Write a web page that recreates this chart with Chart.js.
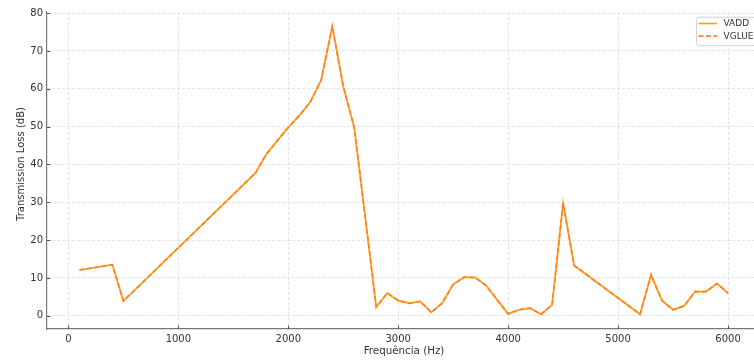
<!DOCTYPE html>
<html>
<head>
<meta charset="utf-8">
<script src="https://cdn.jsdelivr.net/npm/chart.js@4/dist/chart.umd.min.js"></script>
<style>
  html, body { margin: 0; padding: 0; background: #fff; overflow: hidden; }
  #wrap { width: 754px; height: 362px; position: relative; overflow: hidden; }
  #c { position: absolute; left: 0; top: 0; }
</style>
</head>
<body>
<div id="wrap"><canvas id="c" width="761" height="362"></canvas></div>
<script>
// Frequency axis (Hz) and transmission loss (dB) for both models
const frequencies = [100, 400, 500, 1700, 1800, 1900, 2000, 2100, 2200, 2300, 2400, 2500, 2600,
  2800, 2900, 3000, 3100, 3200, 3300, 3400, 3500, 3600, 3700, 3800, 3900, 4000, 4100, 4200,
  4300, 4400, 4500, 4600, 5200, 5300, 5400, 5500, 5600, 5700, 5800, 5900, 6000];
const vadd = [12.1, 13.5, 3.9, 37.7, 42.7, 46.3, 49.8, 52.9, 56.5, 62.4, 76.5, 60.6, 49.7,
  2.3, 6.0, 4.0, 3.3, 3.8, 0.9, 3.3, 8.3, 10.2, 10.1, 8.0, 4.2, 0.5, 1.6, 2.0,
  0.4, 2.9, 29.8, 13.3, 0.4, 10.8, 4.0, 1.6, 2.6, 6.4, 6.4, 8.5, 6.0];
const vglue = [12.1, 13.5, 3.9, 37.7, 42.7, 46.3, 49.8, 52.9, 56.5, 62.4, 76.5, 60.6, 49.7,
  2.3, 6.0, 4.0, 3.3, 3.8, 0.9, 3.3, 8.3, 10.2, 10.1, 8.0, 4.2, 0.5, 1.6, 2.0,
  0.4, 2.9, 29.8, 13.3, 0.4, 10.8, 4.0, 1.6, 2.6, 6.4, 6.4, 8.5, 6.0];
const seriesNames = ['VADD', 'VGLUE'];
const xTicks = [0, 1000, 2000, 3000, 4000, 5000, 6000];
const yTicks = [0, 10, 20, 30, 40, 50, 60, 70, 80];
const xTitle = 'Frequência (Hz)';
const yTitle = 'Transmission Loss (dB)';

const FONT = 'DejaVu Sans';
const TXT = '#333333';

const toPoints = (ys) => frequencies.map((f, i) => ({ x: f, y: ys[i] }));

// Short inward tick marks on the left and bottom spines
const innerTicks = {
  id: 'innerTicks',
  afterDraw(chart) {
    const { ctx, chartArea, scales } = chart;
    ctx.save();
    ctx.strokeStyle = '#555';
    ctx.lineWidth = 1;
    ctx.beginPath();
    xTicks.forEach(v => {
      const px = Math.round(scales.x.getPixelForValue(v)) + 0.5;
      ctx.moveTo(px, chartArea.bottom);
      ctx.lineTo(px, chartArea.bottom - 3.5);
    });
    yTicks.forEach(v => {
      const py = Math.round(scales.y.getPixelForValue(v)) + 0.5;
      ctx.moveTo(chartArea.left, py);
      ctx.lineTo(chartArea.left + 3.5, py);
    });
    ctx.stroke();
    ctx.restore();
  }
};

// Vertical axis title, placed a little above the middle of the plot
const yAxisTitle = {
  id: 'yAxisTitle',
  afterDraw(chart) {
    const { ctx } = chart;
    ctx.save();
    ctx.translate(21.5, 164);
    ctx.rotate(-Math.PI / 2);
    ctx.fillStyle = TXT;
    ctx.font = '10px "' + FONT + '"';
    ctx.textAlign = 'center';
    ctx.textBaseline = 'middle';
    ctx.fillText(yTitle, 0, 0);
    ctx.restore();
  }
};

// Legend box drawn in the upper-right corner of the plot area
const legendBox = {
  id: 'legendBox',
  afterDatasetsDraw(chart) {
    const { ctx, chartArea } = chart;
    const x0 = chartArea.right - 65, y0 = chartArea.top + 4.7;
    const w = 59, h = 28.5;
    ctx.save();
    ctx.beginPath();
    ctx.roundRect(x0 + 0.5, y0 + 0.5, w, h, 2.5);
    ctx.fillStyle = 'rgba(255,255,255,0.85)';
    ctx.fill();
    ctx.strokeStyle = '#d3d3d3';
    ctx.lineWidth = 1;
    ctx.stroke();
    const order = [0, 1];
    order.forEach((i) => {
      const ds = chart.data.datasets[i];
      const yy = y0 + 6.8 + i * 12.7;
      ctx.beginPath();
      ctx.setLineDash(ds.borderDash || []);
      ctx.strokeStyle = ds.borderColor;
      ctx.lineWidth = ds.borderWidth;
      ctx.moveTo(x0 + 2.5, yy);
      ctx.lineTo(x0 + 21, yy);
      ctx.stroke();
      ctx.setLineDash([]);
      ctx.fillStyle = TXT;
      ctx.font = '9px "' + FONT + '"';
      ctx.textBaseline = 'middle';
      ctx.textAlign = 'left';
      ctx.fillText(ds.label, x0 + 27.5, yy + 0.5);
    });
    ctx.restore();
  }
};

const gridOpts = {
  color: '#dcdcdc',
  lineWidth: 0.8,
  drawTicks: false
};
const borderOpts = { display: true, color: '#777', width: 1.2, dash: [3, 2] };

new Chart(document.getElementById('c'), {
  type: 'line',
  data: {
    datasets: [
      {
        label: seriesNames[0],
        data: toPoints(vadd),
        borderColor: '#ffa500',
        borderWidth: 1.7,
        pointRadius: 0,
        tension: 0,
        fill: false,
        order: 2
      },
      {
        label: seriesNames[1],
        data: toPoints(vglue),
        borderColor: '#ff7f32',
        borderWidth: 1.7,
        borderDash: [5, 2.5],
        pointRadius: 0,
        tension: 0,
        fill: false,
        order: 1
      }
    ]
  },
  options: {
    responsive: false,
    animation: false,
    layout: { padding: { top: 12, right: 0, left: 0, bottom: 0 } },
    plugins: {
      legend: { display: false },
      tooltip: { enabled: false }
    },
    scales: {
      x: {
        type: 'linear',
        min: -195,
        max: 6300,
        afterBuildTicks: (s) => { s.ticks = xTicks.map(v => ({ value: v })); },
        afterFit: (s) => { s.height = 33; },
        ticks: {
          color: TXT,
          font: { family: FONT, size: 10 },
          padding: 4,
          maxRotation: 0,
          callback: (v) => String(v)
        },
        grid: gridOpts,
        border: borderOpts,
        title: {
          display: true,
          text: xTitle,
          color: TXT,
          font: { family: FONT, size: 10.3 },
          padding: { top: 0, bottom: 4 }
        }
      },
      y: {
        type: 'linear',
        min: -3.5,
        max: 80.3,
        afterBuildTicks: (s) => { s.ticks = yTicks.map(v => ({ value: v })); },
        afterFit: (s) => { s.width = 47; },
        ticks: {
          color: TXT,
          font: { family: FONT, size: 10 },
          padding: 4
        },
        grid: gridOpts,
        border: borderOpts
      }
    }
  },
  plugins: [legendBox, innerTicks, yAxisTitle]
});
</script>
</body>
</html>
